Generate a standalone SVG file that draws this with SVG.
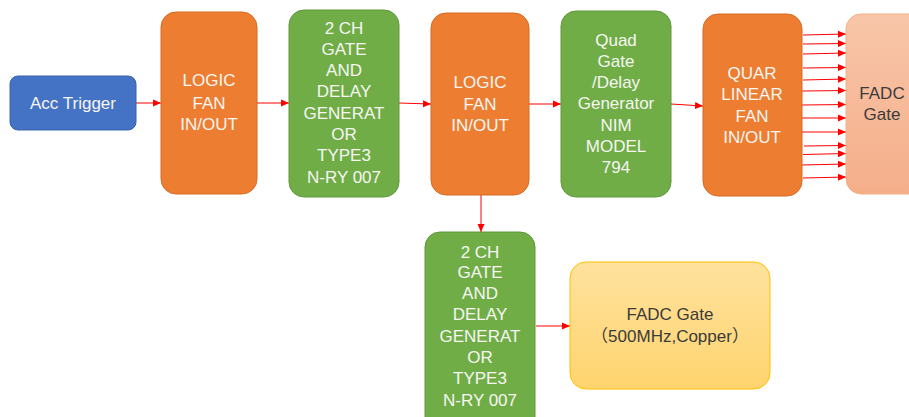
<svg xmlns="http://www.w3.org/2000/svg" width="909" height="417" viewBox="0 0 909 417">
<style>
.t{font-family:"Liberation Sans","Noto Sans CJK JP",sans-serif;font-size:17px;fill:#F6F6F2;text-anchor:middle}
.d{fill:#3A3A3A}
.o{fill:#ED7D31;stroke:#D86A22;stroke-width:1}
.g{fill:#70AD47;stroke:#5E9A38;stroke-width:1}
.c line{stroke:#FF0000;stroke-width:1;fill:none;marker-end:url(#ah)}
</style>
<defs>
<marker id="ah" viewBox="0 0 8 8" refX="8" refY="4" markerWidth="8" markerHeight="8" markerUnits="userSpaceOnUse" orient="auto">
<path d="M0,0.5 L8,4 L0,7.5 Z" fill="#FF0000"/>
</marker>
<linearGradient id="gy" x1="0" y1="0" x2="0" y2="1">
<stop offset="0" stop-color="#FFE29E"/>
<stop offset="1" stop-color="#FFD46E"/>
</linearGradient>
<linearGradient id="gp" x1="0" y1="0" x2="0" y2="1">
<stop offset="0" stop-color="#F8C6A9"/>
<stop offset="1" stop-color="#F5AE8A"/>
</linearGradient>
</defs>
<rect width="909" height="417" fill="#FFFFFF"/>
<g class="c" id="connectors">
<line x1="136" y1="103" x2="161" y2="103"/>
<line x1="257" y1="103" x2="289" y2="103"/>
<line x1="399" y1="103" x2="431" y2="104"/>
<line x1="529" y1="104" x2="561" y2="104"/>
<line x1="671" y1="104" x2="703" y2="106"/>
<line x1="481" y1="195" x2="481" y2="232"/>
<line x1="536" y1="326" x2="570" y2="326"/>
<line x1="803" y1="35" x2="846" y2="34"/>
<line x1="803" y1="44" x2="846" y2="43.5"/>
<line x1="803" y1="54" x2="846" y2="53"/>
<line x1="803" y1="68" x2="846" y2="67.5"/>
<line x1="803" y1="80" x2="846" y2="79"/>
<line x1="802" y1="91" x2="846" y2="90.5"/>
<line x1="802" y1="105" x2="846" y2="104.5"/>
<line x1="802" y1="118" x2="846" y2="118"/>
<line x1="802" y1="132" x2="846" y2="132"/>
<line x1="804" y1="146" x2="846" y2="145.5"/>
<line x1="803" y1="154.5" x2="846" y2="153.5"/>
<line x1="800" y1="165" x2="846" y2="164"/>
<line x1="803" y1="178" x2="846" y2="177"/>
</g>
<g id="acc">
<rect x="10" y="76" width="126" height="54" rx="8" fill="#4472C4" stroke="#3A64AF"/>
<text class="t" x="73" y="109">Acc Trigger</text>
</g>
<g id="fan1">
<rect class="o" x="161" y="12" width="96" height="182" rx="15"/>
<text class="t" x="209" y="86">LOGIC</text>
<text class="t" x="209" y="109">FAN</text>
<text class="t" x="209" y="130">IN/OUT</text>
</g>
<g id="gate1">
<rect class="g" x="289" y="10" width="110" height="187" rx="15"/>
<text class="t" x="344" y="34">2 CH</text>
<text class="t" x="344" y="55">GATE</text>
<text class="t" x="344" y="76">AND</text>
<text class="t" x="344" y="97">DELAY</text>
<text class="t" x="344" y="119">GENERAT</text>
<text class="t" x="344" y="140">OR</text>
<text class="t" x="344" y="161">TYPE3</text>
<text class="t" x="344" y="183">N-RY 007</text>
</g>
<g id="fan2">
<rect class="o" x="431" y="13" width="98" height="182" rx="15"/>
<text class="t" x="480" y="88">LOGIC</text>
<text class="t" x="480" y="110">FAN</text>
<text class="t" x="480" y="131">IN/OUT</text>
</g>
<g id="quad">
<rect class="g" x="561" y="11" width="110" height="186" rx="15"/>
<text class="t" x="616" y="46">Quad</text>
<text class="t" x="616" y="67">Gate</text>
<text class="t" x="616" y="88">/Delay</text>
<text class="t" x="616" y="109">Generator</text>
<text class="t" x="616" y="131">NIM</text>
<text class="t" x="616" y="152">MODEL</text>
<text class="t" x="616" y="173">794</text>
</g>
<g id="quar">
<rect class="o" x="703" y="14" width="99" height="182" rx="15"/>
<text class="t" x="752" y="79">QUAR</text>
<text class="t" x="752" y="100">LINEAR</text>
<text class="t" x="752" y="122">FAN</text>
<text class="t" x="752" y="143">IN/OUT</text>
</g>
<g id="fadc1">
<rect x="846" y="14" width="80" height="180" rx="15" fill="url(#gp)" stroke="#F4B183"/>
<text class="t d" x="882" y="99">FADC</text>
<text class="t d" x="882" y="120">Gate</text>
</g>
<g id="gate2">
<rect class="g" x="425" y="232" width="110" height="200" rx="15"/>
<text class="t" x="480" y="258">2 CH</text>
<text class="t" x="480" y="278">GATE</text>
<text class="t" x="480" y="299">AND</text>
<text class="t" x="480" y="320">DELAY</text>
<text class="t" x="480" y="342">GENERAT</text>
<text class="t" x="480" y="363">OR</text>
<text class="t" x="480" y="384">TYPE3</text>
<text class="t" x="480" y="406">N-RY 007</text>
</g>
<g id="fadc2">
<rect x="570" y="262" width="200" height="127" rx="16" fill="url(#gy)" stroke="#FFC000"/>
<text class="t d" x="670" y="320">FADC Gate</text>
<text class="t d" x="670" y="342" font-size="16">（500MHz,Copper）</text>
</g>
</svg>
